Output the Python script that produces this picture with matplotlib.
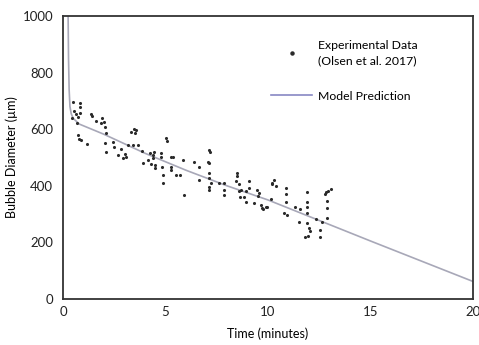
import matplotlib
matplotlib.use("Agg")
import matplotlib.pyplot as plt
from matplotlib.lines import Line2D

exp_time = [0.47, 0.83, 0.83, 0.53, 0.83, 0.62, 0.45, 0.71, 0.70, 0.71, 0.79, 0.90, 1.15,
            1.35, 1.42, 1.63, 1.88, 1.99, 1.83, 2.04, 2.12, 2.04, 2.44, 2.12, 2.49, 2.68,
            2.85, 3.01, 2.93, 3.09, 3.33, 3.50, 3.58, 3.45, 3.17, 3.41, 3.66, 3.87, 3.90,
            4.14, 4.31, 4.38, 4.22, 4.42, 4.79, 4.79, 4.38, 4.47, 4.51, 4.84, 4.87, 4.87,
            5.03, 5.05, 5.28, 5.39, 5.28, 5.28, 5.49, 5.73, 5.84, 5.92, 6.41, 6.65, 6.65,
            7.14, 7.16, 7.05, 7.10, 7.10, 7.14, 7.14, 7.14, 7.22, 7.62, 7.86, 7.86, 7.86,
            8.48, 8.51, 8.46, 8.59, 8.67, 8.63, 8.59, 9.08, 9.08, 8.92, 8.83, 8.92, 9.32,
            9.48, 9.56, 9.53, 9.64, 9.72, 9.88, 10.13, 10.18, 10.29, 10.40, 10.78, 10.94,
            10.86, 10.89, 10.89, 11.34, 11.54, 11.50, 11.91, 11.91, 11.91, 11.91, 11.91,
            11.99, 12.07, 11.80, 11.96, 12.35, 12.61, 12.56, 12.56, 12.83, 12.80, 12.93,
            13.09, 12.87, 12.87, 12.87, 9.97, 9.76, 10.20]
exp_diam = [695, 691, 677, 664, 658, 654, 641, 644, 621, 580, 564, 562, 548,
            654, 647, 630, 638, 624, 621, 609, 588, 552, 556, 521, 538, 509,
            529, 512, 497, 503, 591, 587, 597, 600, 544, 544, 544, 524, 482,
            491, 477, 509, 515, 521, 515, 503, 497, 473, 462, 468, 438, 409,
            568, 560, 503, 503, 468, 456, 438, 438, 491, 367, 485, 465, 420,
            527, 520, 485, 482, 447, 426, 397, 385, 409, 411, 409, 385, 367,
            447, 435, 418, 406, 385, 359, 383, 418, 391, 383, 361, 344, 338,
            385, 373, 365, 332, 320, 324, 352, 406, 420, 399, 303, 297,
            394, 371, 344, 324, 317, 273, 379, 344, 326, 303, 267,
            250, 241, 220, 223, 282, 273, 244, 218, 379, 371, 383,
            388, 347, 320, 285, 324, 318, 409]

# 模型预测曲线
model_time = [0.25, 0.27, 0.30, 0.34, 0.40, 0.50, 0.80, 2.0, 4.0, 6.0, 8.0, 10.0, 15.0, 20.0]
model_diam = [1000, 850, 740, 680, 655, 638, 618, 582, 515, 455, 400, 350, 205, 62]

x_ticks = [0, 5, 10, 15, 20]
y_ticks = [0, 200, 400, 600, 800, 1000]

plt.rcParams['font.family'] = ['Lato', 'DejaVu Sans']

fig = plt.figure(figsize=(4.79, 3.45), dpi=100)
ax = fig.add_axes([0.1315, 0.1333, 0.856, 0.8203])

ax.plot(model_time, model_diam, color='#a8a8b8', linewidth=1.2, zorder=2)
ax.scatter(exp_time, exp_diam, s=5, marker='o', color='#2a2a2a', linewidths=0, zorder=3)

ax.set_xlim(0, 20)
ax.set_ylim(0, 1000)
ax.set_xticks(x_ticks)
ax.set_yticks(y_ticks)
ax.tick_params(length=0, labelsize=9.5, colors='#222222')
ax.tick_params(axis='y', pad=7)
ax.tick_params(axis='x', pad=5)

for side in ['left', 'bottom', 'top', 'right']:
    ax.spines[side].set_color('#333333')
    ax.spines[side].set_linewidth(1.3)

ax.set_xlabel('Time (minutes)', fontsize=9, labelpad=7)
ax.set_ylabel('Bubble Diameter (µm)', fontsize=9, labelpad=3)

# 图例
handles = [Line2D([], [], linestyle='none', marker='o', markersize=2.2, color='#2a2a2a'),
           Line2D([], [], color='#8888c4', linewidth=1.2)]
labels = ['Experimental Data\n(Olsen et al. 2017)', 'Model Prediction']
leg = ax.legend(handles, labels, loc='upper left', bbox_to_anchor=(0.48, 0.955),
                frameon=False, fontsize=8.8, handlelength=3.4, labelspacing=2.0,
                handletextpad=0.5)
for t in leg.get_texts():
    t.set_linespacing(1.5)

plt.savefig('out.png', dpi=100)
plt.close()
